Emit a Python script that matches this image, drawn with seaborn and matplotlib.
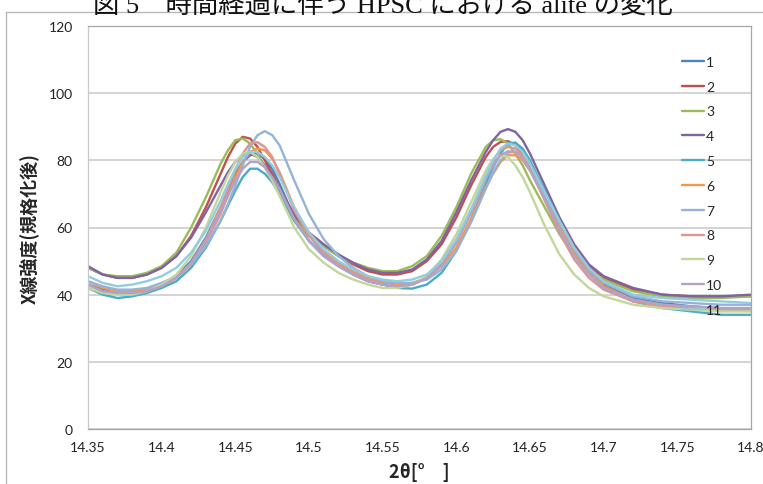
import matplotlib
matplotlib.use("Agg")
import matplotlib.pyplot as plt
import pandas as pd
import seaborn as sns
from matplotlib.lines import Line2D

# ─── Data ─────────────────────────────────────────────────────────────────────

TWO_THETA = [14.35, 14.36, 14.37, 14.38, 14.39, 14.40, 14.41, 14.42, 14.43, 14.44,
             14.445, 14.45, 14.455, 14.46, 14.465, 14.47, 14.475,
             14.48, 14.49, 14.50, 14.51, 14.52, 14.53, 14.54, 14.55, 14.56, 14.57,
             14.58, 14.59, 14.60, 14.61, 14.62,
             14.625, 14.63, 14.635, 14.64, 14.645,
             14.65, 14.66, 14.67, 14.68, 14.69, 14.70,
             14.72, 14.74, 14.76, 14.78, 14.80]

S1 = [43, 41.5, 41, 41, 41.5, 43, 45.5, 50, 57, 66,
      71, 76, 79.5, 81.5, 82, 80.5, 77.5,
      73, 63, 56, 51.5, 48.5, 46, 44, 43, 42.5, 43,
      45, 49, 56, 65, 75,
      79.5, 83, 85, 85, 83,
      79.5, 70, 61, 53, 47, 43,
      39, 37.5, 36.5, 36, 36]
S2 = [48, 46, 45, 45, 46, 48, 51.5, 57.5, 66, 76,
      81, 85, 87, 86.5, 84, 80, 76,
      71.5, 63.5, 58, 54.5, 51.5, 49, 47, 46, 46, 47,
      50, 55, 63, 72.5, 81,
      84, 85.5, 85.7, 84.5, 82,
      78.5, 70, 61.5, 54, 48.5, 45,
      41.5, 40, 39.5, 39.5, 39.5]
S3 = [48, 46, 45.5, 45.5, 46.5, 48.5, 52.5, 60, 69, 79,
      83, 86, 86.5, 85, 82, 78, 74,
      70, 62.5, 57.5, 54.5, 51.5, 49.5, 48, 47, 47, 48.5,
      51.5, 57.5, 66, 76, 84,
      86, 86.3, 85, 82, 78.5,
      74, 66, 58, 51.5, 47.5, 44.5,
      41, 39.5, 39, 39, 39.5]
S4 = [48.5, 46, 45, 45, 46, 48, 51.5, 57, 64.5, 72.5,
      76.5, 79.5, 81.5, 82, 81, 78.5, 75,
      71, 64, 58.5, 55, 52, 49.5, 47.5, 46.5, 46.5, 47.5,
      50.5, 56, 64.5, 74, 82.5,
      86, 88.5, 89.3, 88.5, 86,
      82, 72.5, 63, 55, 49, 45.5,
      42, 40, 39.5, 39.5, 40]
S5 = [42, 40, 39, 39.5, 40.5, 42, 44, 48, 54, 62,
      66.5, 71, 75, 77.5, 77.5, 76, 73.5,
      70, 62, 56, 52, 49, 46.5, 44.5, 43, 42, 41.8,
      43, 46.5, 53, 62.5, 73,
      78, 82, 85, 85.3, 83.5,
      80, 71, 62, 53.5, 47, 42.5,
      38, 36, 35, 34, 34]
S6 = [44, 42, 41, 41, 41.5, 43, 45, 49, 55.5, 64,
      69.5, 75, 79.5, 82.5, 83.5, 83, 80.5,
      76.5, 66, 58, 53, 49.5, 47, 45, 43.5, 43, 43.5,
      45, 48.5, 54, 62.5, 72,
      76, 79.5, 81.5, 81.5, 80,
      77, 69, 60.5, 52.5, 46.5, 42.5,
      38.5, 37, 36, 35.5, 35.5]
S7 = [44, 42.5, 41.5, 41.5, 42, 43.5, 45.5, 49, 54.5, 62,
      67, 72.5, 78.5, 84, 87.5, 88.7, 87.5,
      84.5, 74, 64, 56.5, 51.5, 48, 45.5, 44, 43.5, 43.5,
      44.5, 47.5, 53, 61.5, 71.5,
      76.5, 80, 82.3, 82.5, 81,
      78, 70, 61.5, 53.5, 47.5, 43.5,
      39.5, 38, 37.5, 37, 37]
S8 = [43, 41, 40.5, 40.5, 41, 42.5, 45, 49.5, 56.5, 66,
      71.5, 77, 82, 85, 85.4, 84, 81,
      76, 65, 57.5, 52.5, 49, 46.5, 44.5, 43, 42.5, 43,
      45, 49, 55.5, 64.5, 75,
      79.5, 83, 84, 83.5, 81.5,
      77.5, 68, 58.5, 50.5, 45, 41.5,
      38, 36.5, 36, 35.5, 35.5]
S9 = [42, 40.5, 40, 40, 41, 43, 46, 51.5, 60, 70.5,
      75.5, 79.5, 82, 82.5, 81, 78, 74,
      69.5, 60, 53.5, 49.5, 46.5, 44.5, 43, 42, 42, 43,
      45.5, 50.5, 58, 67.5, 77,
      80.5, 81.5, 81, 78.5, 75,
      70.5, 60.5, 52, 46, 42, 39.5,
      37, 36, 35.5, 35, 35]
S10 = [43, 41, 40.5, 40.5, 41, 42.5, 45, 49.5, 56, 64.5,
       69.5, 74, 77.5, 79.5, 79.5, 78, 75,
       71.5, 62.5, 56, 51.5, 48.5, 46, 44, 43, 42.5, 43,
       45, 49, 55.5, 64.5, 74.5,
       78.5, 81.5, 82.7, 82.5, 80.5,
       77, 68.5, 59.5, 51.5, 46, 42,
       38.5, 37, 36.5, 36, 36]
S11 = [45.5, 43.5, 42.5, 43, 44, 45.5, 48, 52.5, 59, 68,
       73, 77.5, 81, 82.5, 82.5, 81, 78.5,
       75, 66, 58.5, 53.5, 50, 47.5, 45.5, 44.5, 44, 44.5,
       46, 50, 56.5, 65.5, 75.5,
       80, 83.5, 85, 84.5, 82.5,
       79, 70.5, 62, 54, 48, 44,
       40, 39, 38.5, 38, 37.5]

SERIES_VALUES = [S1, S2, S3, S4, S5, S6, S7, S8, S9, S10, S11]
SERIES_NAMES  = ["1", "2", "3", "4", "5", "6", "7", "8", "9", "10", "11"]

X_TICKS = [14.35, 14.40, 14.45, 14.50, 14.55, 14.60, 14.65, 14.70, 14.75, 14.80]
Y_TICKS = [0, 20, 40, 60, 80, 100, 120]

TITLE  = "図 5　時間経過に伴う HPSC における alite の変化"
XLABEL = "2θ[°　]"
YLABEL = "X線強度(規格化後)"

# Excel 2010 default palette
COLORS = ["#4F81BD", "#C0504D", "#9BBB59", "#8064A2", "#4BACC6", "#F79646",
          "#95B3D7", "#D99694", "#C3D69B", "#B3A2C7", "#93CDDD"]

# ─── Build long-form table ────────────────────────────────────────────────────

frames = [
    pd.DataFrame({"two_theta": TWO_THETA, "intensity": vals, "series": name})
    for vals, name in zip(SERIES_VALUES, SERIES_NAMES)
]
df = pd.concat(frames, ignore_index=True)

# ─── Plot ─────────────────────────────────────────────────────────────────────

sns.set_theme(style="white")
plt.rcParams["font.family"] = ["Lato", "Noto Sans CJK JP", "DejaVu Sans"]
CJK = ["Noto Sans CJK JP", "DejaVu Sans"]

fig = plt.figure(figsize=(7.63, 4.85), dpi=100)
ax = fig.add_axes([88 / 763, 1 - 430 / 485, 663 / 763, 403 / 485])

sns.lineplot(
    data=df, x="two_theta", y="intensity", hue="series",
    hue_order=SERIES_NAMES, palette=COLORS, estimator=None,
    linewidth=1.7, ax=ax,
)

ax.set_xlim(14.35, 14.80)
ax.set_ylim(0, 120)
ax.set_xticks(X_TICKS)
ax.set_xticklabels([f"{v:g}" for v in X_TICKS])
ax.set_yticks(Y_TICKS)
ax.tick_params(axis="both", length=0, labelsize=10, colors="#222222")
ax.tick_params(axis="x", pad=9)
ax.tick_params(axis="y", pad=11)
ax.yaxis.grid(True, color="#C8C8C8", linewidth=1.1)
ax.set_axisbelow(True)
for side, spine in ax.spines.items():
    spine.set_color("#A6A6A6")
    spine.set_linewidth(0.9)
ax.spines["left"].set_color("#C8C8C8")

ax.set_xlabel(XLABEL, family=CJK, fontsize=13, fontweight="bold", labelpad=6)
ax.set_ylabel(YLABEL, family=CJK, fontsize=13, fontweight="bold", labelpad=7)

handles, labels = ax.get_legend_handles_labels()
ax.legend(
    handles, labels, loc="upper left", bbox_to_anchor=(675 / 763, 1 - 50 / 485),
    bbox_transform=fig.transFigure, frameon=False, fontsize=10,
    handlelength=1.6, handletextpad=0.15, labelspacing=0.92, borderpad=0,
)

# chart-area border and clipped title
fig.add_artist(Line2D([6 / 763, 6 / 763], [0, 1 - 13 / 485],
                      transform=fig.transFigure, color="#B8B8B8", linewidth=1))
fig.add_artist(Line2D([6 / 763, 1], [1 - 13 / 485, 1 - 13 / 485],
                      transform=fig.transFigure, color="#B8B8B8", linewidth=1))
fig.text(0.502, 1 - 13 / 485, TITLE, ha="center", va="baseline", fontsize=19,
         family=["Liberation Serif", "Noto Sans CJK JP"], color="#111111")

fig.savefig("out.png", dpi=100)
